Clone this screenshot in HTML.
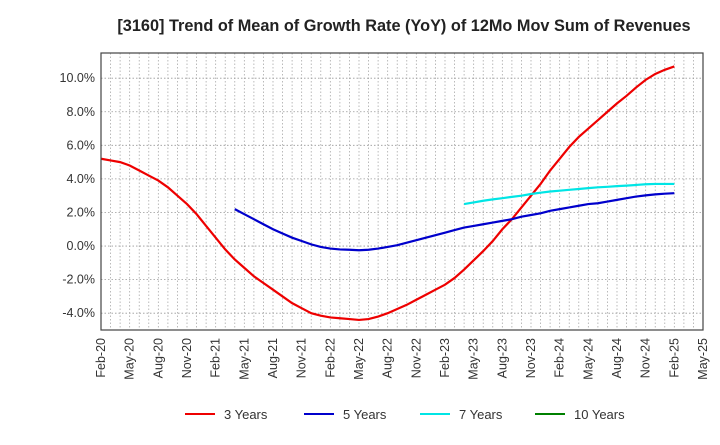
<!DOCTYPE html>
<html><head><meta charset="utf-8"><style>
body{margin:0;background:#fff;font-family:"Liberation Sans",Arial,sans-serif}
svg text{font-family:"Liberation Sans",Arial,sans-serif}
</style></head><body>
<svg id="c" width="720" height="440" xmlns="http://www.w3.org/2000/svg">
<text x="404" y="31" text-anchor="middle" font-size="16.3" font-weight="bold" fill="#222">[3160]  Trend of Mean of Growth Rate (YoY) of 12Mo Mov Sum of Revenues</text>
<g id="grid"></g><g id="series"></g><g id="axes"></g>
<g id="legend"></g>
</svg>
<script>
const xLabels=["Feb-20","May-20","Aug-20","Nov-20","Feb-21","May-21","Aug-21","Nov-21","Feb-22","May-22","Aug-22","Nov-22","Feb-23","May-23","Aug-23","Nov-23","Feb-24","May-24","Aug-24","Nov-24","Feb-25","May-25"];
const yTicks=[-4,-2,0,2,4,6,8,10];
const red3=[5.2,5.1,5.0,4.8,4.5,4.2,3.9,3.5,3.0,2.5,1.9,1.2,0.5,-0.2,-0.8,-1.3,-1.8,-2.2,-2.6,-3.0,-3.4,-3.7,-4.0,-4.15,-4.25,-4.3,-4.35,-4.4,-4.35,-4.2,-4.0,-3.75,-3.5,-3.2,-2.9,-2.6,-2.3,-1.9,-1.4,-0.85,-0.3,0.3,1.0,1.6,2.3,3.0,3.7,4.5,5.2,5.9,6.5,7.0,7.5,8.0,8.5,8.95,9.45,9.9,10.25,10.5,10.7];
const blue5Start=14;
const blue5=[2.2,1.9,1.6,1.3,1.0,0.75,0.5,0.3,0.1,-0.05,-0.15,-0.2,-0.22,-0.25,-0.22,-0.15,-0.05,0.05,0.2,0.35,0.5,0.65,0.8,0.95,1.1,1.2,1.3,1.4,1.5,1.6,1.75,1.85,1.95,2.1,2.2,2.3,2.4,2.5,2.55,2.65,2.75,2.85,2.95,3.02,3.08,3.12,3.15];
const cyan7Start=38;
const cyan7=[2.5,2.6,2.7,2.78,2.85,2.93,3.0,3.1,3.18,3.25,3.3,3.35,3.4,3.45,3.5,3.53,3.57,3.6,3.64,3.68,3.7,3.7,3.7];
const green10=[];
const L=101,R=703,T=53,B=330,yMin=-5,yMax=11.5,months=63;
const X=i=>L+(R-L)*i/months;
const Y=v=>B-(B-T)*(v-yMin)/(yMax-yMin);
const NS="http://www.w3.org/2000/svg";
function mk(tag,a,p){const e=document.createElementNS(NS,tag);for(const k in a)e.setAttribute(k,a[k]);p.appendChild(e);return e;}
const grid=document.getElementById('grid'),axes=document.getElementById('axes'),ser=document.getElementById('series'),leg=document.getElementById('legend');
for(let m=1;m<months;m++){const l=mk('line',{x1:X(m),x2:X(m),y1:T,y2:B,stroke:'#aaa','stroke-width':0.8,'stroke-dasharray':'1.5,2'},grid);

}
yTicks.forEach(v=>{const l=mk('line',{x1:L,x2:R,y1:Y(v),y2:Y(v),stroke:'#999','stroke-width':0.8,'stroke-dasharray':'1.5,2'},grid);


const t=mk('text',{x:L-6,y:Y(v)+4,'text-anchor':'end','font-size':12.5,fill:'#333'},axes);t.textContent=v.toFixed(1)+'%';

});
const f=mk('rect',{x:L,y:T,width:R-L,height:B-T,fill:'none',stroke:'#444','stroke-width':1.2},axes);


xLabels.forEach((s,i)=>{const x=X(i*3);const t=mk('text',{x:x+4,y:B+8,'text-anchor':'end','font-size':12.5,fill:'#333',transform:`rotate(-90 ${x+4} ${B+8})`},axes);t.textContent=s;

});
function line(arr,start,color,name){if(!arr.length)return;const p=mk('polyline',{points:arr.map((v,i)=>X(start+i)+','+Y(v)).join(' '),fill:'none',stroke:color,'stroke-width':2.2},ser);

}
line(red3,0,'#ee0000','line-3-years');
line(blue5,blue5Start,'#0000cc','line-5-years');
line(cyan7,cyan7Start,'#00e5e5','line-7-years');
line(green10,0,'#008000','line-10-years');
[['3 Years','#ee0000',185],['5 Years','#0000cc',304],['7 Years','#00e5e5',420],['10 Years','#008000',535]].forEach(([s,c,x])=>{
const g=mk('g',{},leg);


mk('line',{x1:x,x2:x+30,y1:414,y2:414,stroke:c,'stroke-width':2},g);
const t=mk('text',{x:x+39,y:419,'font-size':13,fill:'#333'},g);t.textContent=s;});
</script>
</body></html>
